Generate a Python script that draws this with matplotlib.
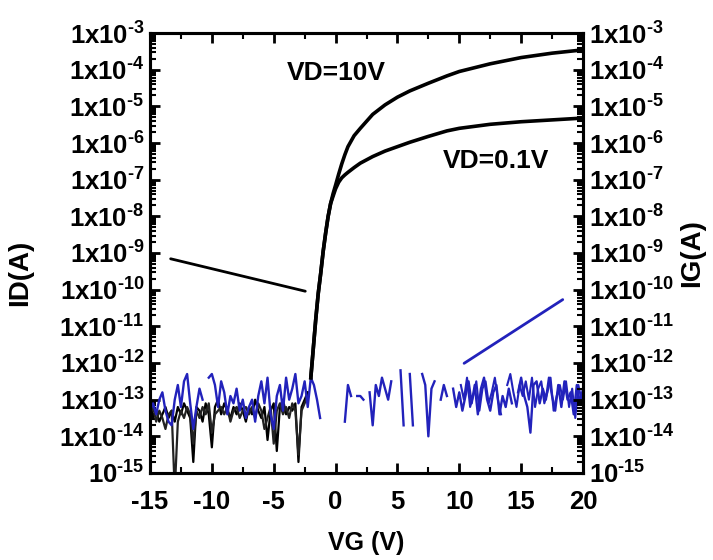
import matplotlib
matplotlib.use("Agg")
import matplotlib.pyplot as plt
import numpy as np
from matplotlib.ticker import LogLocator, FuncFormatter, MultipleLocator, NullFormatter

plt.rcParams["font.family"] = ["Liberation Sans", "DejaVu Sans"]
plt.rcParams["font.weight"] = "bold"
plt.rcParams["axes.unicode_minus"] = False
plt.rcParams["mathtext.fontset"] = "custom"
plt.rcParams["mathtext.rm"] = "Liberation Sans:bold"
plt.rcParams["mathtext.it"] = "Liberation Sans:bold"
plt.rcParams["mathtext.bf"] = "Liberation Sans:bold"

# off-state drain current, VG from -15 to -2.25 V (log10 of A)
vg_off = np.arange(-15, -2.2, 0.25)
id10_off_log = [
    -13.1, -13.5, -13.3, -13.6, -13.4, -13.2, -13.5, -13.3,
    -13.6, -13.2, -13.4, -13.1, -13.3, -13.5, -14.7, -13.2,
    -13.3, -13.6, -13.1, -13.4, -14.3, -13.2, -13.0, -13.4,
    -13.1, -13.3, -13.5, -13.2, -13.4, -13.1, -13.3, -13.6,
    -13.2, -13.4, -13.0, -13.3, -13.5, -13.2, -14.1, -13.3,
    -13.1, -14.4, -13.2, -13.0, -13.4, -13.2, -13.3, -13.1,
    -14.7, -13.2, -13.0, -12.8,
]
id01_off_log = [
    -13.4, -13.2, -13.6, -13.3, -13.5, -13.8, -13.4, -13.3,
    -15.5, -13.6, -13.3, -13.5, -13.2, -13.4, -14.2, -13.3,
    -13.5, -13.2, -13.4, -13.1, -13.9, -13.4, -13.3, -13.2,
    -13.4, -13.2, -13.6, -13.3, -13.2, -13.5, -13.3, -13.2,
    -13.4, -13.2, -13.5, -13.1, -13.3, -13.8, -13.5, -13.2,
    -14.2, -13.3, -13.1, -13.4, -13.2, -13.5, -13.1, -13.3,
    -14.5, -13.3, -13.1, -12.9,
]

# turn-on and on-state
vg_on = [-2.0, -1.8, -1.6, -1.4, -1.2, -1.0, -0.8, -0.6, -0.4, -0.2, 0.0, 0.25,
         0.5, 0.75, 1.0, 1.5, 2.0, 3.0, 4.0, 5.0, 6.0, 7.5, 9.0, 10.0, 12.5,
         15.0, 17.5, 20.0]
id10_on_log = [-12.4, -11.6, -10.8, -10.1, -9.55, -8.95, -8.45, -8.0, -7.65,
               -7.38, -7.15, -6.85, -6.57, -6.32, -6.1, -5.8, -5.6, -5.22,
               -4.96, -4.75, -4.58, -4.37, -4.17, -4.05, -3.84, -3.67, -3.55,
               -3.46]
id01_on_log = [-12.4, -11.6, -10.8, -10.1, -9.55, -8.95, -8.45, -8.0, -7.65,
               -7.45, -7.25, -7.07, -6.95, -6.87, -6.8, -6.67, -6.55, -6.37,
               -6.22, -6.1, -5.98, -5.82, -5.67, -5.6, -5.49, -5.42, -5.37,
               -5.32]

# gate leakage, VG from -15 to 20 V (nan = not shown on log axis)
vg_ig = np.arange(-15, 20.01, 0.25)
nan = np.nan
ig_log = [
    -13.3, -13.1, -13.4, -13.0, -12.8, -13.3, -13.6, -13.7,
    -13.0, -12.6, -13.2, -12.5, -12.3, -13.1, -13.8, -13.2,
    -12.7, -13.0, nan, -12.4, -12.3, -12.6, -13.2, -12.5,
    -12.8, -13.4, -12.9, -13.1, -12.7, -13.3, -13.0, -13.5,
    -13.2, -13.0, -13.6, -12.9, -12.5, -13.1, -12.4, -13.4,
    -13.8, -12.9, -12.6, -13.3, -12.4, -13.0, -12.7, -12.3,
    -13.1, -12.9, -12.5, -13.2, -12.4, -12.6, -13.0, -13.5,
    nan, nan, nan, nan, nan, nan, nan, -13.6,
    -12.6, -12.9, nan, -12.9, -12.9, -13.0, nan, -12.8,
    -13.7, -12.6, -12.9, -12.4, -12.7, -13.0, -12.5, nan,
    nan, -12.2, -13.7, nan, -12.3, -13.7, nan, nan,
    -12.3, -12.6, -14.0, -12.7, -12.5, nan, -13.0, -12.6,
    -12.9, nan, -12.7, -13.2, -12.8, -13.3, -12.9, -12.5,
    -13.1, -12.6, -13.4, -12.7, -12.4, -13.0, -13.3, -12.8,
    -12.6, -13.4, -12.9, -13.2, -12.7, -13.1, nan, -12.8,
    -12.4, -12.9, -13.2, -13.9, -12.6, -12.5, -13.1, -12.7,
    -13.0, -12.4, -12.9, -13.3, -12.6, -13.2, -12.5, -13.0,
    -12.8, -13.4, -12.6, -13.1, -12.7,
]
# return sweep of the gate current, 10.125 to 19.875 V
vg_ig2 = np.arange(10.125, 20, 0.25)
ig2_log = [
    -12.6, -13.0, -12.4, -13.2, -12.9, -12.5, -13.3, -12.7,
    -12.5, -13.1, -12.8, -12.4, -13.0, -13.4, nan, -12.6,
    -12.3, -12.8, -13.2, -12.6, -12.9, -12.5, -13.0, -12.4,
    -13.2, -12.7, -12.5, -13.1, -12.8, -12.4, -13.3, -12.9,
    -12.6, -13.0, -12.5, -13.2, -12.7, -13.5, -12.6, -13.0,
]

blue = "#2222bb"
HY = "\u2010"  # short hyphen for exponents, as in the original

fig = plt.figure(figsize=(7.13, 5.6), dpi=100)
ax = fig.add_axes([150 / 713, 1 - 473 / 560, 433 / 713, 440 / 560])

ax.plot(vg_off, 10 ** np.array(id10_off_log), color="black", lw=1.6)
ax.plot(vg_off, 10 ** np.array(id01_off_log), color="#222222", lw=1.6)
ax.plot(vg_ig, 10 ** np.array(ig_log), color=blue, lw=1.7)
ax.plot(vg_ig2, 10 ** np.array(ig2_log), color=blue, lw=1.5)
ax.plot(vg_on, 10 ** np.array(id10_on_log), color="black", lw=2.6)
ax.plot(vg_on, 10 ** np.array(id01_on_log), color="black", lw=2.6)

ax.set_xlim(-15, 20)


def id_label(v, pos):
    e = int(round(np.log10(v)))
    if e == -15:
        return r"$\mathregular{10^{%s%d}}$" % (HY, -e)
    return r"$\mathregular{1x10^{%s%d}}$" % (HY, -e)


def setup_log_axis(a):
    a.set_yscale("log")
    a.set_ylim(1e-15, 1e-3)
    a.yaxis.set_major_locator(LogLocator(base=10, numticks=30))
    a.yaxis.set_minor_locator(LogLocator(base=10, subs=np.arange(2, 10), numticks=30))
    a.yaxis.set_major_formatter(FuncFormatter(id_label))
    a.yaxis.set_minor_formatter(NullFormatter())


ax.xaxis.set_major_locator(MultipleLocator(5))
ax.xaxis.set_minor_locator(MultipleLocator(2.5))
setup_log_axis(ax)

ax2 = ax.twinx()
setup_log_axis(ax2)

for a in (ax, ax2):
    for s in a.spines.values():
        s.set_linewidth(2.2)
    a.tick_params(which="major", direction="in", length=7, width=2, labelsize=18.5)
    a.tick_params(which="minor", direction="in", length=4, width=1.5)
ax.tick_params(axis="x", which="both", top=True, pad=12.5)
ax.tick_params(axis="y", which="major", pad=4)
ax2.tick_params(axis="y", which="major", pad=4)

ax.set_xlabel("VG (V)", fontsize=18, fontweight="bold", labelpad=12)
ax.set_ylabel("ID(A)", fontsize=20, fontweight="bold")
ax.yaxis.set_label_coords(-0.27, 0.455)
ax2.set_ylabel("IG(A)", fontsize=20, fontweight="bold", rotation=90, labelpad=4)

ax.text(0.43, 0.909, "VD=10V", transform=ax.transAxes, fontsize=19,
        fontweight="bold", ha="center", va="center")
ax.text(0.80, 0.709, "VD=0.1V", transform=ax.transAxes, fontsize=19,
        fontweight="bold", ha="center", va="center")

# pointer lines to the axes
ax.annotate("", xy=(-13.55, 10 ** -9.14), xytext=(-2.23, 10 ** -10.06),
            arrowprops=dict(arrowstyle="-", color="black", lw=2))
ax.annotate("", xy=(18.55, 10 ** -10.23), xytext=(10.2, 10 ** -12.05),
            arrowprops=dict(arrowstyle="-", color=blue, lw=2))

fig.savefig("out.png", dpi=100)
